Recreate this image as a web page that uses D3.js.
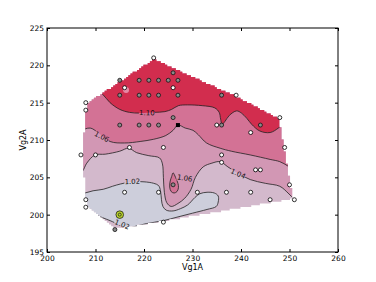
<!DOCTYPE html>
<html lang="en">
<head>
<meta charset="utf-8" />
<script src="https://cdn.jsdelivr.net/npm/d3@7"></script>
<style>
  body { margin: 0; background: #fff; }
  svg { font-family: "DejaVu Sans", sans-serif; }
</style>
</head>
<body>
<svg id="chart" width="376" height="282"></svg>
<script>
// tick values
const xTicks = [200, 210, 220, 230, 240, 250, 260];
const yTicks = [195, 200, 205, 210, 215, 220, 225];

// measured points (white markers)
const whitePts = [
  [222,221],[216,217],[226,217],[239,216],[208,215],[208,214],[248,213],
  [235,212],[242,211],[217,209],[224,209],[249,209],[207,208],[210,208],
  [236,208],[236,207],[243,206],[244,206],[250,204],[216,203],[223,203],
  [231,203],[237,203],[242,203],[246,202],[251,202],[208,202],[208,201],[224,199]
];
// measured points (grey markers)
const greyPts = [
  [226,219],[215,218],[219,218],[221,218],[223,218],[225,218],[227,218],
  [215,216],[219,216],[221,216],[223,216],[227,216],[236,216],[226,213],
  [215,212],[219,212],[221,212],[223,212],[236,212],[244,212],[226,204],[214,198]
];
const blackPt = [227, 212];
const bestPt = [215, 200];
const pinkPt = [216.3, 216.7];

// contour lines (Vg1A, Vg2A)
const line110 = [
  [209,217.3],[211.5,216.1],[213,215],[215,214.1],[217,213.7],[219.2,213.6],[222,213.7],
  [224.3,213.8],[225.7,214.1],[227.1,214.6],[229,214.7],[232,214.6],[234.6,214.3],
  [235.5,213.7],[235.8,212.8],[236.1,212.1],[236.7,212.5],[237.6,213.3],[239.1,213.9],
  [240.1,213.6],[241.2,212.9],[242.2,212.1],[243.9,211.2],[246,211.0],[247.7,211.6],[250,213]
];
const line106 = [
  [205,210.6],[206.8,211.2],[208.9,211.6],[210.5,211.0],[213,209.8],[216,209.6],[219.2,209.8],
  [222,210.1],[224.5,210.6],[226,211.3],[227,212],[228.5,211.6],[230.1,211.3],[231.2,210.7],
  [232.9,209.6],[235.7,208.9],[238,208.5],[241.9,208.0],[246,207.4],[248,207.1],
  [249.7,206.5],[252,205.4]
];
const line104 = [
  [205,204.5],[207.3,205.8],[208.2,206.9],[209.9,208.0],[212,208.1],[215,208.5],[216.8,208.9],
  [218.5,208.3],[221,207.9],[223.2,207.6],[223.8,206.8],[224,205],[224.2,203],[224.7,201.6],
  [225.6,201.1],[227,201.5],[228.4,202.2],[229.7,203.4],[230.6,205.0],[232.2,206.4],
  [234,206.9],[235.7,207.1],[237.3,206.4],[239.5,205.5],[241.9,204.7],[245,204.2],
  [248,203.8],[249.7,202.9],[251.1,202.0],[253,201.2]
];
const region102 = [
  [205,202.7],[207.8,202.9],[209.5,203.2],[211.6,203.4],[213.5,203.8],[215.1,204.1],
  [217.5,204.4],[220,204.4],[222,204.2],[223,203.9],[223.4,203.2],[223.6,202],[223.9,201.1],
  [224.6,200.6],[226,200.5],[227.5,200.8],[229,201.3],[230.5,202.3],[231.5,202.8],
  [233,203.0],[234.5,202.9],[235.3,202.5],[235.3,201.7],[234.9,201.1],[233,200.7],
  [230,200.2],[227,199.7],[224,199.2],[220.5,198.8],[218,198.4],[216.8,198.2],
  [213,199.2],[209.9,200.0],[205,201.3]
];
const island106 = [
  [226.0,205.6],[226.5,205.0],[227.0,204.2],[227.1,203.6],[226.8,203.1],[226.2,202.9],
  [225.6,203.1],[225.3,203.7],[225.4,204.5],[225.7,205.1]
];
const labels = [
  {t: "1.10", x: 220.6, y: 213.65, a: 1},
  {t: "1.06", x: 211.3, y: 210.45, a: 28},
  {t: "1.02", x: 217.6, y: 204.45, a: -2},
  {t: "1.06", x: 228.4, y: 204.9, a: 10},
  {t: "1.04", x: 239.4, y: 205.5, a: 24},
  {t: "1.02", x: 215.5, y: 198.7, a: 22}
];

const colLow = "#cdcedb", col102 = "#d3b9cc", col104 = "#d297b4", col106 = "#d37295", col110 = "#d22d4e";

const svg = d3.select("#chart");
const x = d3.scaleLinear().domain([200, 260]).range([47, 338]);
const y = d3.scaleLinear().domain([195, 225]).range([252, 28]);

// masked grid like griddata: cells inside the hull of the points
const allPts = whitePts.concat(greyPts);
const hull = d3.polygonHull(allPts);
const xs = d3.extent(allPts, d => d[0]), ys = d3.extent(allPts, d => d[1]);
const N = 100;
const gx = d3.range(N).map(i => xs[0] + (xs[1] - xs[0]) * i / (N - 1));
const gy = d3.range(N).map(j => ys[0] + (ys[1] - ys[0]) * j / (N - 1));
const inside = (px, py) => d3.polygonContains(hull, [px, py]) ||
  d3.polygonContains(hull, [px + 1e-6, py + 1e-6]);
let clipD = "";
for (let j = 0; j < N - 1; j++) {
  let run = -1;
  for (let i = 0; i <= N - 1; i++) {
    const ok = i < N - 1 && inside(gx[i], gy[j]) && inside(gx[i + 1], gy[j]) &&
      inside(gx[i], gy[j + 1]) && inside(gx[i + 1], gy[j + 1]);
    if (ok && run < 0) run = i;
    if (!ok && run >= 0) {
      const x0 = x(gx[run]), x1 = x(gx[i]), y0 = y(gy[j + 1]), y1 = y(gy[j]);
      clipD += `M${x0},${y0}H${x1}V${y1}H${x0}Z`;
      run = -1;
    }
  }
}
const defs = svg.append("defs");
defs.append("clipPath").attr("id", "hullClip").append("path").attr("d", clipD);

// mask to cut lines under the inline labels
const mask = defs.append("mask").attr("id", "lblMask").attr("maskUnits", "userSpaceOnUse")
  .attr("x", 0).attr("y", 0).attr("width", 376).attr("height", 282);
mask.append("rect").attr("width", 376).attr("height", 282).attr("fill", "#fff");
labels.forEach(l => {
  const w = l.t.length * 4.0;
  mask.append("rect")
    .attr("x", -w / 2).attr("y", -3.5).attr("width", w).attr("height", 7)
    .attr("fill", "#000")
    .attr("transform", `translate(${x(l.x)},${y(l.y)}) rotate(${l.a})`);
});

const lineGen = d3.line().x(d => x(d[0])).y(d => y(d[1])).curve(d3.curveCatmullRom);
const closedGen = d3.line().x(d => x(d[0])).y(d => y(d[1])).curve(d3.curveCatmullRomClosed);
const above = pts => lineGen(pts) + `L${x(262)},${y(230)}L${x(198)},${y(230)}Z`;

const g = svg.append("g").attr("clip-path", "url(#hullClip)");
g.append("rect").attr("x", x(200)).attr("y", y(225)).attr("width", x(260) - x(200))
  .attr("height", y(195) - y(225)).attr("fill", col102);
g.append("path").attr("d", closedGen(region102)).attr("fill", colLow);
g.append("path").attr("d", above(line104)).attr("fill", col104);
g.append("path").attr("d", above(line106)).attr("fill", col106);
g.append("path").attr("d", closedGen(island106)).attr("fill", col106);
g.append("path").attr("d", above(line110)).attr("fill", col110);

const lg = g.append("g").attr("mask", "url(#lblMask)")
  .attr("fill", "none").attr("stroke", "#222").attr("stroke-width", 0.8);
lg.append("path").attr("d", closedGen(region102));
lg.append("path").attr("d", lineGen(line104));
lg.append("path").attr("d", lineGen(line106));
lg.append("path").attr("d", closedGen(island106));
lg.append("path").attr("d", lineGen(line110));

svg.append("g").selectAll("text").data(labels).join("text")
  .attr("transform", d => `translate(${x(d.x)},${y(d.y)}) rotate(${d.a})`)
  .attr("text-anchor", "middle").attr("dy", "0.35em")
  .attr("font-size", 7).attr("fill", "#111").text(d => d.t);

// markers
svg.append("circle").attr("cx", x(pinkPt[0])).attr("cy", y(pinkPt[1])).attr("r", 3)
  .attr("fill", "#e58aa5");
svg.append("g").selectAll("circle").data(whitePts).join("circle")
  .attr("cx", d => x(d[0])).attr("cy", d => y(d[1])).attr("r", 2)
  .attr("fill", "#fff").attr("stroke", "#000").attr("stroke-width", 0.8);
svg.append("g").selectAll("circle").data(greyPts).join("circle")
  .attr("cx", d => x(d[0])).attr("cy", d => y(d[1])).attr("r", 2)
  .attr("fill", "#8a8a8a").attr("stroke", "#111").attr("stroke-width", 0.8);
svg.append("rect").attr("x", x(blackPt[0]) - 2).attr("y", y(blackPt[1]) - 2)
  .attr("width", 4).attr("height", 4).attr("fill", "#000");
svg.append("circle").attr("cx", x(bestPt[0])).attr("cy", y(bestPt[1])).attr("r", 3.8)
  .attr("fill", "#bcd62a").attr("stroke", "#222").attr("stroke-width", 0.8);
svg.append("circle").attr("cx", x(bestPt[0])).attr("cy", y(bestPt[1])).attr("r", 1.5)
  .attr("fill", "none").attr("stroke", "#222").attr("stroke-width", 0.8);

// axes with inward ticks
const fontSize = 7.5;
svg.append("g").attr("transform", `translate(0,${y(195)})`)
  .call(d3.axisBottom(x).tickValues(xTicks).tickSizeInner(-3).tickSizeOuter(0).tickPadding(4))
  .call(a => a.select(".domain").remove())
  .call(a => a.selectAll("text").attr("font-size", fontSize).attr("font-family", "DejaVu Sans").attr("fill", "#000"));
svg.append("g").attr("transform", `translate(0,${y(225)})`)
  .call(d3.axisTop(x).tickValues(xTicks).tickSizeInner(-3).tickSizeOuter(0).tickFormat(""))
  .call(a => a.select(".domain").remove());
svg.append("g").attr("transform", `translate(${x(200)},0)`)
  .call(d3.axisLeft(y).tickValues(yTicks).tickSizeInner(-3).tickSizeOuter(0).tickPadding(3))
  .call(a => a.select(".domain").remove())
  .call(a => a.selectAll("text").attr("font-size", fontSize).attr("font-family", "DejaVu Sans").attr("fill", "#000"));
svg.append("g").attr("transform", `translate(${x(260)},0)`)
  .call(d3.axisRight(y).tickValues(yTicks).tickSizeInner(-3).tickSizeOuter(0).tickFormat(""))
  .call(a => a.select(".domain").remove());

svg.append("rect").attr("x", x(200)).attr("y", y(225))
  .attr("width", x(260) - x(200)).attr("height", y(195) - y(225))
  .attr("fill", "none").attr("stroke", "#000").attr("stroke-width", 1);

svg.append("text").attr("x", (x(200) + x(260)) / 2).attr("y", 270)
  .attr("text-anchor", "middle").attr("font-size", 8).text("Vg1A");
svg.append("text").attr("transform", `translate(26,${(y(195) + y(225)) / 2}) rotate(-90)`)
  .attr("text-anchor", "middle").attr("font-size", 8).text("Vg2A");
</script>
</body>
</html>
